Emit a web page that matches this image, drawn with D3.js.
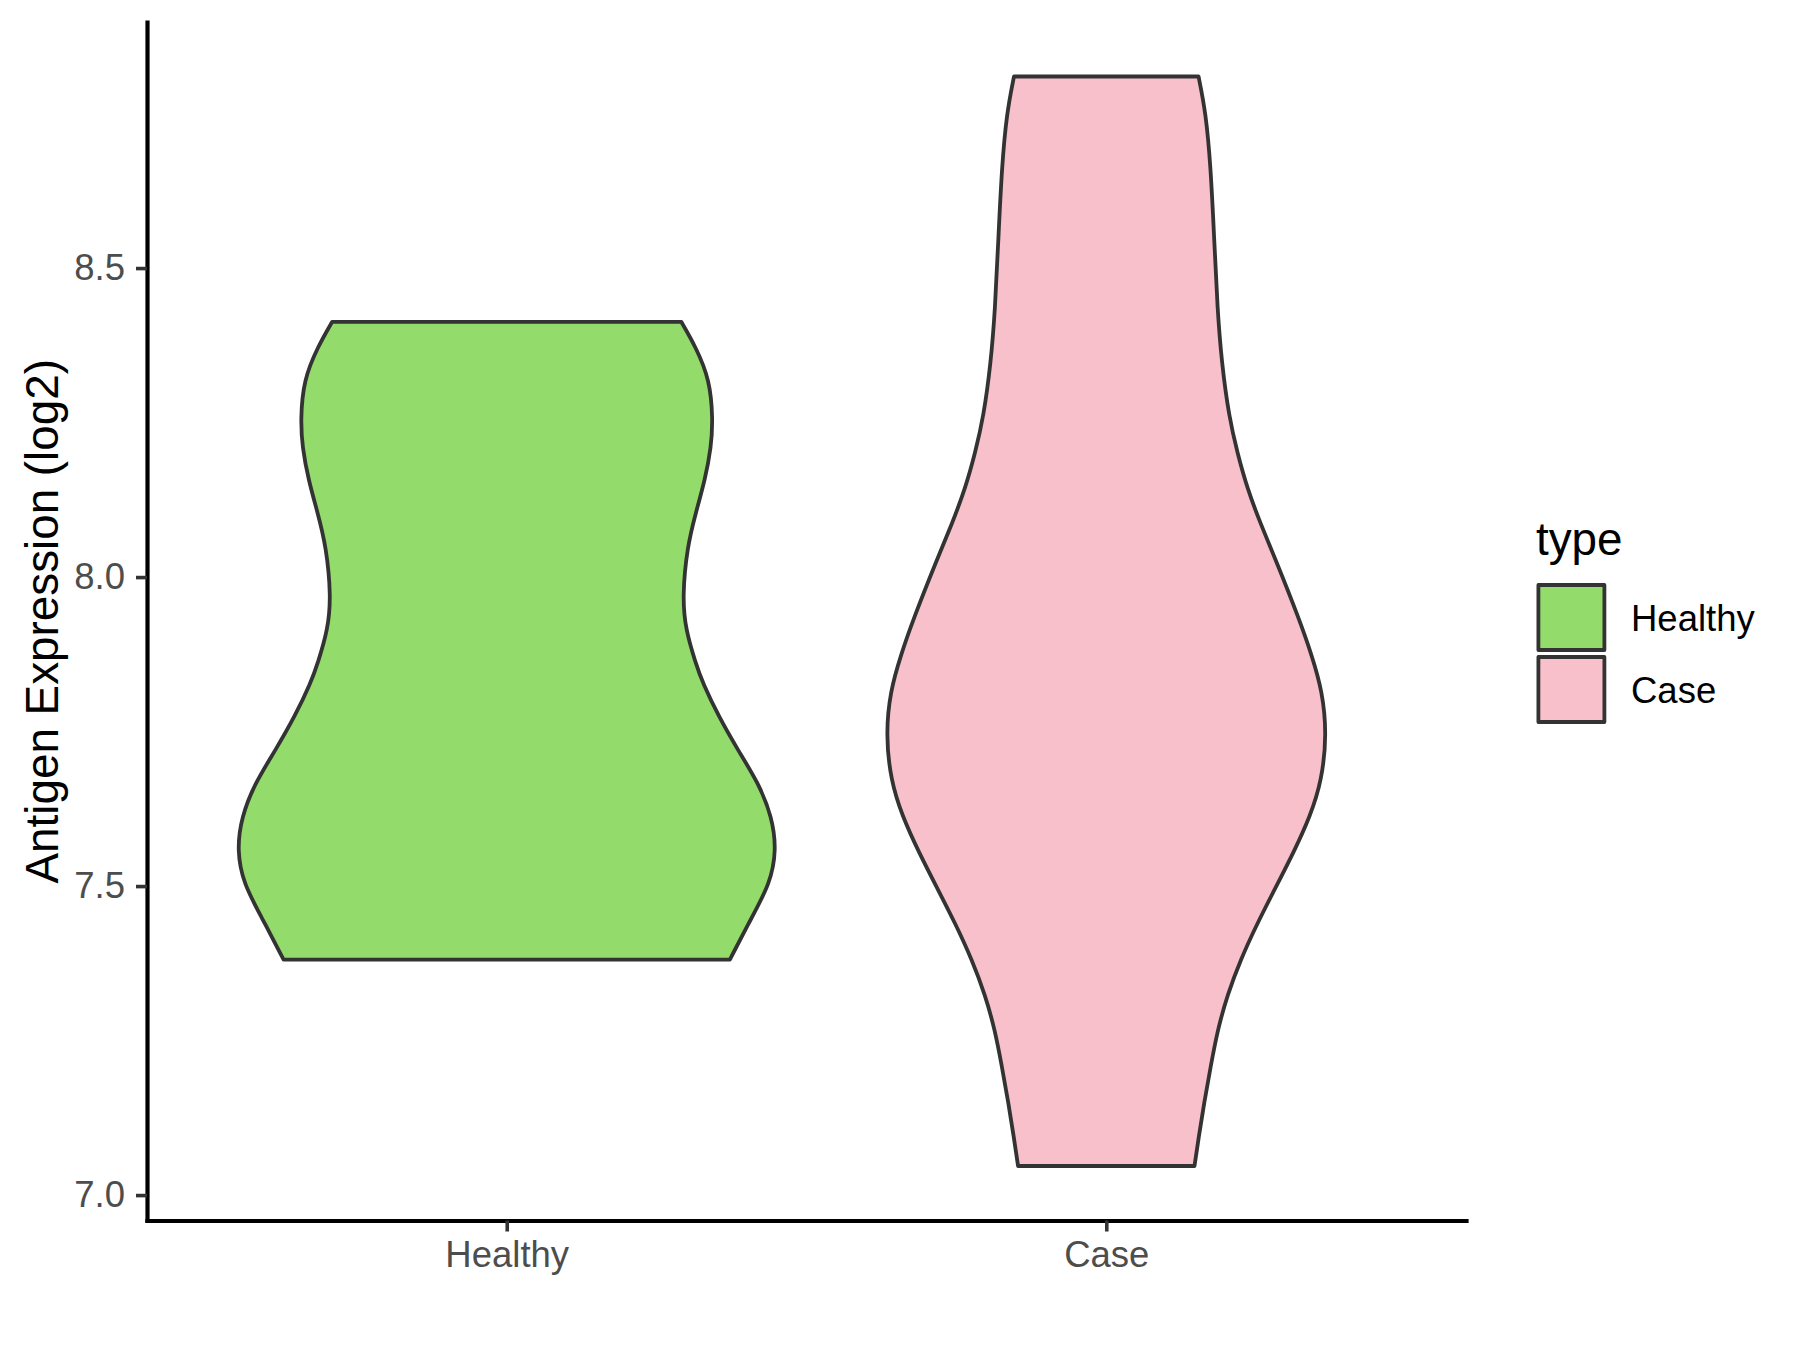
<!DOCTYPE html>
<html>
<head>
<meta charset="utf-8">
<script src="https://cdn.jsdelivr.net/npm/d3@7"></script>
<style>
  body { margin: 0; background: #ffffff; }
  svg { display: block; }
</style>
</head>
<body>
<script>
"use strict";

// groups and their colours
var categories = ["Healthy", "Case"];
var fills = ["#93DB6B", "#F7C0CB"];

// violin outlines: expression value / relative density
var healthyValues = [8.413, 8.373, 8.319, 8.255, 8.211, 8.157, 8.103, 8.049, 7.968, 7.915,
                     7.861, 7.828, 7.774, 7.720, 7.666, 7.612, 7.558, 7.504, 7.450, 7.381];
var healthyDensity = [0.647, 0.700, 0.753, 0.764, 0.758, 0.735, 0.700, 0.669, 0.651, 0.663,
                      0.700, 0.727, 0.786, 0.857, 0.934, 0.983, 1.000, 0.976, 0.909, 0.827];

var caseValues = [8.810, 8.751, 8.664, 8.548, 8.433, 8.346, 8.259, 8.201, 8.144, 8.086,
                  8.028, 7.931, 7.873, 7.815, 7.746, 7.671, 7.613, 7.555, 7.497, 7.439,
                  7.381, 7.324, 7.266, 7.208, 7.150, 7.092, 7.047];
var caseDensity = [0.342, 0.369, 0.387, 0.400, 0.412, 0.428, 0.455, 0.486, 0.522, 0.572,
                   0.628, 0.716, 0.762, 0.801, 0.817, 0.799, 0.756, 0.695, 0.627, 0.559,
                   0.498, 0.449, 0.412, 0.387, 0.363, 0.342, 0.327];

var yTicks = [7.0, 7.5, 8.0, 8.5];
var yLabel = "Antigen Expression (log2)";
var legendTitle = "type";

drawViolins();

function drawViolins() {
    var width = 1800;
    var height = 1350;
    var panel = { left: 147, right: 1466, top: 22, bottom: 1220.5 };
    var ink = "#333333";
    var font = "'Liberation Sans', Arial, Helvetica, sans-serif";

    var groups = [
        { name: categories[0], fill: fills[0], values: healthyValues, density: healthyDensity },
        { name: categories[1], fill: fills[1], values: caseValues, density: caseDensity }
    ];

    var svg = d3.select("body")
        .append("svg")
        .attr("width", width)
        .attr("height", height);

    // y range of data plus 5% on each side, like ggplot
    var all = caseValues.concat(healthyValues);
    var yMin = d3.min(all);
    var yMax = d3.max(all);
    var pad = (yMax - yMin) * 0.05;
    var y = d3.scaleLinear()
        .domain([yMin - pad, yMax + pad])
        .range([panel.bottom, panel.top]);

    var x = d3.scalePoint()
        .domain(categories)
        .range([panel.left, panel.right])
        .padding(0.6);

    var maxDensity = d3.max(healthyDensity.concat(caseDensity));
    var w = d3.scaleLinear()
        .domain([0, maxDensity])
        .range([0, 0.45 * x.step()]);

    // violins
    var violin = svg.append("g").attr("class", "violins");
    groups.forEach(function(g) {
        var pts = g.values.map(function(v, i) { return { v: v, d: g.density[i] }; });
        var cx = x(g.name);
        var area = d3.area()
            .curve(d3.curveBasis)
            .y(function(p) { return y(p.v); })
            .x0(function(p) { return cx - w(p.d); })
            .x1(function(p) { return cx + w(p.d); });
        violin.append("path")
            .datum(pts)
            .attr("d", area)
            .attr("fill", g.fill)
            .attr("stroke", ink)
            .attr("stroke-width", 3.8)
            .attr("stroke-linejoin", "round");
    });

    // axes
    var yAxis = svg.append("g")
        .attr("transform", "translate(" + panel.left + ",0)")
        .call(d3.axisLeft(y).tickValues(yTicks).tickFormat(d3.format(".1f"))
              .tickSize(11).tickSizeOuter(0).tickPadding(11));

    var xAxis = svg.append("g")
        .attr("transform", "translate(0," + panel.bottom + ")")
        .call(d3.axisBottom(x).tickSize(11).tickSizeOuter(0).tickPadding(10));

    [yAxis, xAxis].forEach(function(ax) {
        ax.attr("font-family", font).attr("font-size", 36.5);
        ax.select(".domain").attr("stroke", "#000000").attr("stroke-width", 4.2)
            .attr("stroke-linecap", "square");
        ax.selectAll(".tick line").attr("stroke", ink).attr("stroke-width", 3.6);
        ax.selectAll(".tick text").attr("fill", "#4D4D4D");
    });

    // y axis title
    svg.append("text")
        .attr("transform", "translate(58," + ((panel.top + panel.bottom) / 2) + ") rotate(-90)")
        .attr("text-anchor", "middle")
        .attr("font-family", font)
        .attr("font-size", 45.8)
        .attr("fill", "#000000")
        .text(yLabel);

    // legend
    var legend = svg.append("g").attr("class", "legend");
    legend.append("text")
        .attr("x", 1536)
        .attr("y", 555)
        .attr("font-family", font)
        .attr("font-size", 45.8)
        .attr("fill", "#000000")
        .text(legendTitle);

    var keys = legend.selectAll("g.key")
        .data(groups)
        .enter()
        .append("g")
        .attr("class", "key")
        .attr("transform", function(d, i) { return "translate(0," + (585 + i * 72) + ")"; });

    keys.append("rect")
        .attr("x", 1538.4)
        .attr("y", 0)
        .attr("width", 66)
        .attr("height", 65)
        .attr("fill", function(d) { return d.fill; })
        .attr("stroke", ink)
        .attr("stroke-width", 3.8)
        .attr("stroke-linejoin", "round");

    keys.append("text")
        .attr("x", 1631)
        .attr("y", 45.5)
        .attr("font-family", font)
        .attr("font-size", 36.5)
        .attr("fill", "#000000")
        .text(function(d) { return d.name; });
}
</script>
</body>
</html>
